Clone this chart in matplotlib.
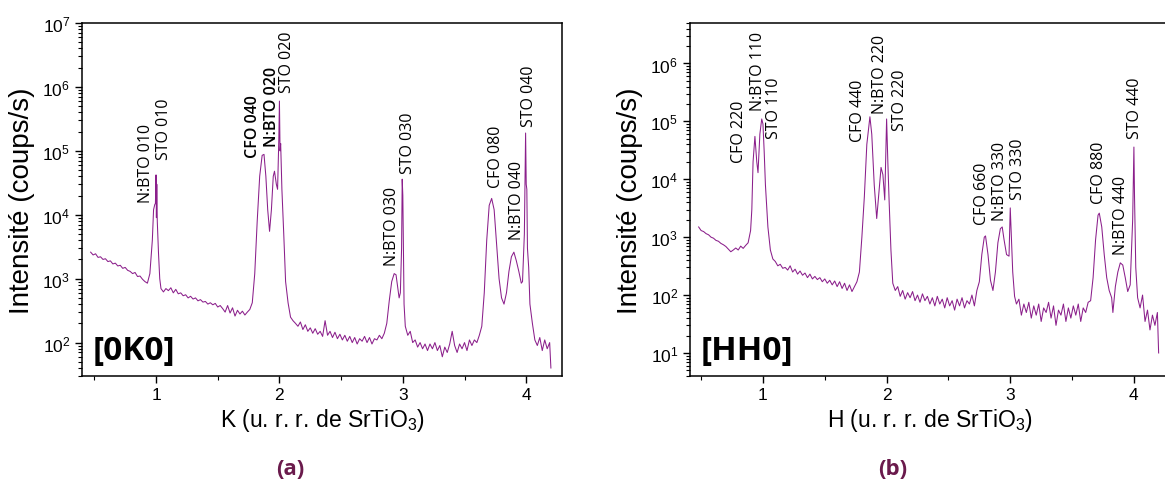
import numpy as np
import matplotlib
matplotlib.use('Agg')
from matplotlib import pyplot as plt
from matplotlib.ticker import MultipleLocator, LogLocator

plt.rcParams['font.family'] = ['Liberation Sans', 'DejaVu Sans']
plt.rcParams['mathtext.fontset'] = 'custom'
plt.rcParams['mathtext.rm'] = 'Liberation Sans'
plt.rcParams['mathtext.default'] = 'regular'

LINE_COLOR = '#8b1f8b'
CAPTION_COLOR = '#6a1a4c'

# ---- panel (a): [0K0] scan ----
k_values = [0.47, 0.49, 0.51, 0.53, 0.55, 0.57, 0.59, 0.61, 0.63, 0.65, 0.67, 0.69, 0.71, 0.73, 0.75,
            0.77, 0.79, 0.81, 0.83, 0.85, 0.87, 0.89, 0.91, 0.93, 0.95, 0.97, 0.98, 0.99, 0.995, 1.0,
            1.003, 1.006, 1.01, 1.02, 1.03, 1.04, 1.06, 1.08, 1.10, 1.12, 1.14, 1.16, 1.18, 1.20, 1.22,
            1.24, 1.26, 1.28, 1.30, 1.32, 1.34, 1.36, 1.38, 1.40, 1.42, 1.44, 1.46, 1.48, 1.50, 1.52,
            1.54, 1.56, 1.58, 1.60, 1.62, 1.64, 1.66, 1.68, 1.70, 1.72, 1.74, 1.76, 1.78, 1.80, 1.82,
            1.84, 1.86, 1.875, 1.89, 1.905, 1.92, 1.935, 1.95, 1.96, 1.975, 1.985, 1.995, 2.0, 2.005, 2.01,
            2.02, 2.035, 2.05, 2.07, 2.09, 2.11, 2.13, 2.15, 2.17, 2.19, 2.21, 2.23, 2.25, 2.27, 2.29,
            2.31, 2.33, 2.35, 2.37, 2.39, 2.41, 2.43, 2.45, 2.47, 2.49, 2.51, 2.53, 2.55, 2.57, 2.59,
            2.61, 2.63, 2.65, 2.67, 2.69, 2.71, 2.73, 2.75, 2.77, 2.79, 2.81, 2.83, 2.85, 2.87, 2.89,
            2.91, 2.93, 2.945, 2.96, 2.97, 2.98, 2.99, 2.995, 3.0, 3.005, 3.01, 3.02, 3.04, 3.06, 3.08,
            3.10, 3.12, 3.14, 3.16, 3.18, 3.20, 3.22, 3.24, 3.26, 3.28, 3.30, 3.32, 3.34, 3.36, 3.38,
            3.40, 3.42, 3.44, 3.46, 3.48, 3.50, 3.52, 3.54, 3.56, 3.58, 3.60, 3.62, 3.64, 3.66, 3.68,
            3.70, 3.72, 3.74, 3.76, 3.78, 3.80, 3.82, 3.84, 3.86, 3.88, 3.90, 3.92, 3.94, 3.96, 3.97,
            3.985, 3.995, 4.0, 4.005, 4.01, 4.02, 4.03, 4.05, 4.07, 4.09, 4.11, 4.13, 4.15, 4.17, 4.19,
            4.20]
k_counts = [2600, 2350, 2450, 2150, 2200, 2000, 2050, 1850, 1900, 1700, 1750, 1580, 1620, 1450, 1500,
            1350, 1300, 1200, 1250, 1080, 1100, 980, 900, 850, 1200, 4000, 12000, 14500, 15000, 42000,
            9000, 30000, 8000, 2500, 1000, 700, 620, 700, 650, 720, 600, 680, 580, 600, 540,
            560, 500, 530, 480, 500, 450, 470, 430, 440, 400, 420, 390, 410, 360, 380,
            340, 300, 380, 290, 350, 260, 320, 280, 310, 270, 300, 330, 420, 1200, 8000,
            40000, 85000, 88000, 40000, 12000, 5500, 12000, 40000, 48000, 30000, 25000, 150000, 600000, 100000, 130000,
            25000, 5000, 900, 420, 250, 220, 200, 180, 210, 160, 190, 150, 170, 140, 165,
            135, 150, 125, 220, 130, 150, 120, 145, 115, 135, 110, 130, 105, 125, 100,
            120, 95, 115, 105, 125, 100, 120, 95, 115, 110, 130, 115, 140, 200, 450,
            900, 1200, 1150, 700, 500, 600, 3000, 36000, 20000, 3000, 400, 180, 130, 150, 100,
            110, 85, 100, 80, 95, 75, 95, 80, 100, 75, 90, 60, 85, 70, 95,
            150, 90, 70, 95, 80, 100, 75, 110, 90, 110, 100, 130, 180, 600, 4000,
            14000, 18000, 12000, 3500, 1000, 500, 400, 600, 1300, 2200, 2600, 1900, 1300, 850, 900,
            5000, 190000, 30000, 25000, 3000, 1500, 400, 200, 110, 90, 120, 75, 110, 80, 100,
            40]

k_label_text = ['N:BTO 010', 'STO 010', 'CFO 040', 'N:BTO 020', 'STO 020',
                'N:BTO 030', 'STO 030', 'CFO 080', 'N:BTO 040', 'STO 040']
k_label_x = [0.915, 1.065, 1.787, 1.941, 2.063, 2.914, 3.044, 3.758, 3.928, 4.025]
k_label_y = [1.6e4, 7.4e4, 7.9e4, 1.17e5, 8.3e5, 1.66e3, 4.5e4, 2.7e4, 4.1e3, 2.45e5]
k_label_bold = [False, False, True, True, False, False, False, False, False, False]

# ---- panel (b): [HH0] scan ----
h_values = [0.48, 0.50, 0.52, 0.54, 0.56, 0.58, 0.60, 0.62, 0.64, 0.66, 0.68, 0.70, 0.72, 0.74, 0.76,
            0.78, 0.80, 0.82, 0.84, 0.86, 0.88, 0.90, 0.91, 0.92, 0.935, 0.95, 0.96, 0.975, 0.99, 1.00,
            1.01, 1.02, 1.04, 1.06, 1.08, 1.10, 1.12, 1.14, 1.16, 1.18, 1.20, 1.22, 1.24, 1.26, 1.28,
            1.30, 1.32, 1.34, 1.36, 1.38, 1.40, 1.42, 1.44, 1.46, 1.48, 1.50, 1.52, 1.54, 1.56, 1.58,
            1.60, 1.62, 1.64, 1.66, 1.68, 1.70, 1.72, 1.74, 1.76, 1.78, 1.80, 1.82, 1.84, 1.865, 1.88,
            1.90, 1.92, 1.935, 1.955, 1.97, 1.985, 1.995, 2.00, 2.01, 2.02, 2.035, 2.05, 2.07, 2.09, 2.11,
            2.13, 2.15, 2.17, 2.19, 2.21, 2.23, 2.25, 2.27, 2.29, 2.31, 2.33, 2.35, 2.37, 2.39, 2.41,
            2.43, 2.45, 2.47, 2.49, 2.51, 2.53, 2.55, 2.57, 2.59, 2.61, 2.63, 2.65, 2.67, 2.69, 2.71,
            2.73, 2.75, 2.77, 2.79, 2.80, 2.82, 2.84, 2.86, 2.88, 2.90, 2.92, 2.935, 2.95, 2.97, 2.99,
            3.00, 3.01, 3.02, 3.035, 3.05, 3.07, 3.09, 3.11, 3.13, 3.15, 3.17, 3.19, 3.21, 3.23, 3.25,
            3.27, 3.29, 3.31, 3.33, 3.35, 3.37, 3.39, 3.41, 3.43, 3.45, 3.47, 3.49, 3.51, 3.53, 3.55,
            3.57, 3.59, 3.61, 3.63, 3.65, 3.67, 3.69, 3.71, 3.72, 3.74, 3.76, 3.78, 3.80, 3.82, 3.83,
            3.85, 3.87, 3.89, 3.91, 3.93, 3.95, 3.97, 3.99, 4.00, 4.005, 4.015, 4.03, 4.05, 4.07, 4.09,
            4.11, 4.13, 4.15, 4.17, 4.19, 4.20]
h_counts = [1500, 1300, 1250, 1150, 1100, 1000, 960, 880, 850, 780, 740, 690, 620, 560, 600,
            650, 600, 700, 640, 720, 800, 1300, 3000, 20000, 55000, 20000, 13000, 60000, 110000, 90000,
            30000, 8000, 1500, 600, 420, 380, 320, 340, 290, 300, 270, 320, 250, 280, 230,
            260, 220, 240, 200, 230, 190, 210, 185, 200, 170, 190, 160, 180, 150, 175,
            140, 170, 130, 160, 120, 150, 115, 140, 170, 250, 1000, 5000, 40000, 120000, 60000,
            8000, 2100, 5000, 16000, 12000, 4400, 40000, 110000, 20000, 4400, 600, 160, 120, 140, 95,
            120, 85, 110, 90, 115, 80, 100, 75, 105, 80, 95, 70, 90, 65, 95,
            70, 85, 60, 90, 65, 80, 55, 85, 65, 90, 60, 80, 70, 100, 65,
            120, 170, 500, 1000, 1050, 500, 180, 120, 250, 800, 1400, 1500, 900, 500, 470,
            3200, 900, 250, 95, 70, 85, 45, 70, 50, 75, 40, 65, 45, 70, 35,
            60, 50, 75, 40, 65, 30, 55, 45, 70, 35, 60, 40, 65, 45, 70,
            35, 60, 50, 75, 80, 200, 900, 2400, 2600, 1500, 500, 200, 120, 90, 50,
            140, 250, 360, 330, 200, 115, 150, 2000, 36000, 5000, 300, 90, 60, 100, 35,
            55, 25, 45, 30, 50, 10]

h_label_text = ['CFO 220', 'N:BTO 110', 'STO 110', 'CFO 440', 'N:BTO 220', 'STO 220',
                'CFO 660', 'N:BTO 330', 'STO 330', 'CFO 880', 'N:BTO 440', 'STO 440']
h_label_x = [0.803, 0.96, 1.089, 1.768, 1.946, 2.108, 2.77, 2.916, 3.062, 3.716, 3.894, 4.007]
h_label_y = [2.0e4, 1.6e5, 5.1e4, 4.6e4, 1.4e5, 7.2e4, 1.7e3, 2.0e3, 4.6e3, 3.9e3, 5.2e2, 5.1e4]


def style_axis(ax, xlabel):
    ax.set_yscale('log')
    ax.xaxis.set_major_locator(MultipleLocator(1))
    ax.xaxis.set_minor_locator(MultipleLocator(0.5))
    ax.yaxis.set_major_locator(LogLocator(base=10, numticks=12))
    ax.yaxis.set_minor_locator(LogLocator(base=10, subs=np.arange(2, 10), numticks=12))
    ax.tick_params(axis='both', which='major', direction='out', length=5, width=1,
                   labelsize=12.5, top=False, right=False)
    ax.tick_params(axis='both', which='minor', direction='out', length=3, width=0.8,
                   top=False, right=False)
    ax.tick_params(axis='x', which='major', pad=3)
    for spine in ax.spines.values():
        spine.set_linewidth(1.1)
    ax.set_xlabel(xlabel, fontsize=16.5, labelpad=3)
    ax.set_ylabel('Intensité (coups/s)', fontsize=20, labelpad=5)


fig = plt.figure(figsize=(11.65, 4.89), dpi=100)
ax1 = fig.add_axes([82 / 1165, 112 / 489, 480 / 1165, 353 / 489])
ax2 = fig.add_axes([690 / 1165, 112 / 489, 481 / 1165, 353 / 489])

ax1.plot(k_values, k_counts, color=LINE_COLOR, lw=0.75)
ax1.set_xlim(0.4, 4.29)
ax1.set_ylim(30, 1e7)
style_axis(ax1, 'K (u. r. r. de SrTiO$_3$)')
for txt, x, y, b in zip(k_label_text, k_label_x, k_label_y, k_label_bold):
    ax1.text(x, y, txt, rotation=90, ha='center', va='bottom', fontsize=11.5,
             family='Open Sans', fontweight='semibold' if b else 'normal')
ax1.text(0.023, 0.025, '[0K0]', transform=ax1.transAxes, fontsize=24,
         family='Open Sans', fontweight='bold', ha='left', va='bottom')

ax2.plot(h_values, h_counts, color=LINE_COLOR, lw=0.75)
ax2.set_xlim(0.41, 4.30)
ax2.set_ylim(4, 5e6)
style_axis(ax2, 'H (u. r. r. de SrTiO$_3$)')
for txt, x, y in zip(h_label_text, h_label_x, h_label_y):
    ax2.text(x, y, txt, rotation=90, ha='center', va='bottom', fontsize=11.5,
             family='Open Sans')
ax2.text(0.023, 0.025, '[HH0]', transform=ax2.transAxes, fontsize=24,
         family='Open Sans', fontweight='bold', ha='left', va='bottom')

fig.text(290 / 1165, 1 - 470 / 489, '(a)', ha='center', va='center', fontsize=16,
         family='Open Sans', fontweight='bold', color=CAPTION_COLOR)
fig.text(893 / 1165, 1 - 470 / 489, '(b)', ha='center', va='center', fontsize=16,
         family='Open Sans', fontweight='bold', color=CAPTION_COLOR)

plt.savefig('out.png', dpi=100)
